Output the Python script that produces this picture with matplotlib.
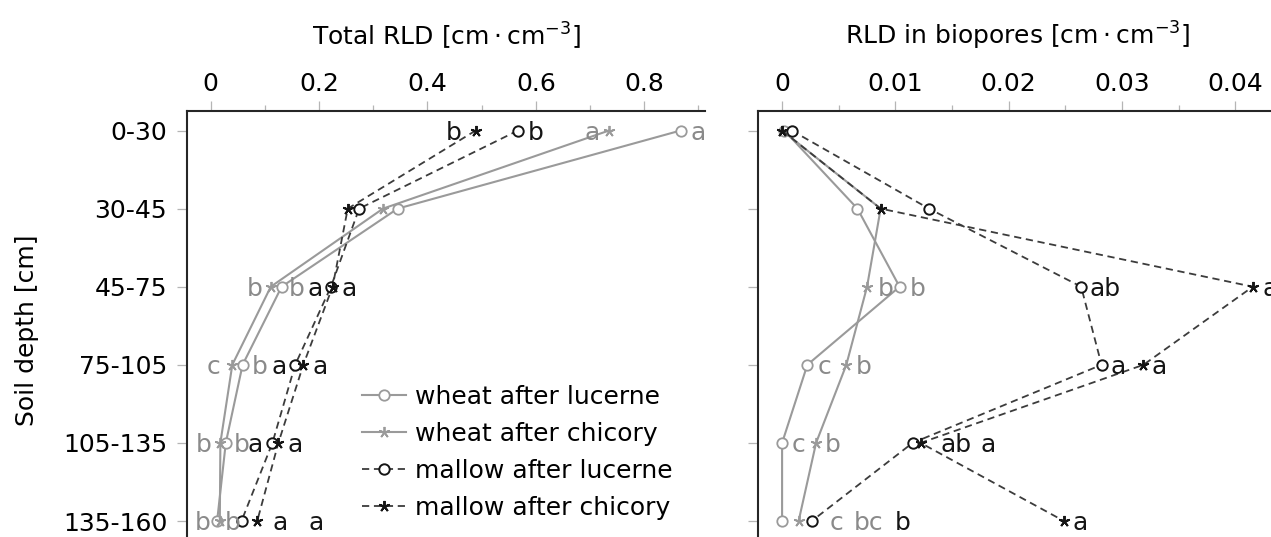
import matplotlib
matplotlib.use("Agg")
import matplotlib.pyplot as plt
from matplotlib.ticker import MultipleLocator, FuncFormatter
from matplotlib.lines import Line2D

plt.rcParams["font.family"] = ["DejaVu Sans"]
plt.rcParams["mathtext.fontset"] = "dejavusans"

# ---- data -------------------------------------------------------------
depths = ["0-30", "30-45", "45-75", "75-105", "105-135", "135-160"]
series_names = ["wheat after lucerne", "wheat after chicory",
                "mallow after lucerne", "mallow after chicory"]

# total root length density [cm cm^-3]
total_wl = [0.867, 0.345, 0.131, 0.059, 0.028, 0.012]
total_wc = [0.735, 0.318, 0.111, 0.040, 0.018, 0.017]
total_ml = [0.567, 0.274, 0.222, 0.156, 0.114, 0.057]
total_mc = [0.489, 0.253, 0.225, 0.171, 0.125, 0.086]

# root length density in biopores [cm cm^-3]
bio_wl = [0.0002, 0.00665, 0.01037, 0.00223, 0.0, 0.0]
bio_wc = [0.0, 0.0087, 0.0075, 0.00567, 0.0030, 0.00146]
bio_ml = [0.00085, 0.01296, 0.0264, 0.0282, 0.01152, 0.00262]
bio_mc = [0.0, 0.0087, 0.04155, 0.0319, 0.01223, 0.02488]

# significance letters per depth (None = no letter)
total_letters = {
    "wl": ["a", None, "b", "b", "b", "b"],
    "wc": ["a", None, "b", "c", "b", "b"],
    "ml": ["b", None, "a", "a", "a", "a"],
    "mc": ["b", None, "a", "a", "a", "a"],
}
bio_letters = {
    "wl": [None, None, "b", "c", "c", "c"],
    "wc": [None, None, "b", "b", "b", "bc"],
    "ml": [None, None, "ab", "a", "ab", "b"],
    "mc": [None, None, "a", "a", "a", "a"],
}

# horizontal letter offsets from the marker, in pixels
total_letter_dx = {
    "wl": [18, 0, 15, 17, 16, 16],
    "wc": [-17, 0, -16, -19, -17, -17],
    "ml": [18, 0, -16, -16, -17, 75],
    "mc": [-22, 0, 17, 17, 17, 23],
}
bio_letter_dx = {
    "wl": [0, 0, 18, 17, 16, 54],
    "wc": [0, 0, 19, 17, 17, 70],
    "ml": [0, 0, 24, 17, 43, 91],
    "mc": [0, 0, 17, 16, 67, 16],
}

# ---- style ------------------------------------------------------------
GREY = "#9a9a9a"
GREY_TXT = "#8a8a8a"
DARK = "#3c3c3c"
BLACK = "#151515"
FS = 18
DPI = 100
W, H = 1271, 537

STAR = (5, 2, 0)
styles = {
    "wl": dict(color=GREY, ls="-", marker="o", mfc="white", mec=GREY, ms=7.5, mew=1.3, lw=1.5),
    "wc": dict(color=GREY, ls="-", marker=STAR, mec=GREY, ms=8, mew=1.3, lw=1.5),
    "ml": dict(color=DARK, ls=(0, (4, 2.6)), marker="o", mfc="white", mec=BLACK, ms=7.5, mew=1.4, lw=1.3),
    "mc": dict(color=DARK, ls=(0, (4, 2.6)), marker=STAR, mec=BLACK, ms=8, mew=1.4, lw=1.3),
}
txt_colors = {"wl": GREY_TXT, "wc": GREY_TXT, "ml": BLACK, "mc": BLACK}
keys = ["wl", "wc", "ml", "mc"]

fig = plt.figure(figsize=(W / DPI, H / DPI), dpi=DPI)

ax_top_px, ax_bot_px = 111, 546
ax_h = (ax_bot_px - ax_top_px) / H
ax_w = (705 - 187.3) / W
ax1 = fig.add_axes([187.3 / W, 1 - ax_bot_px / H, ax_w, ax_h])
ax2 = fig.add_axes([758.3 / W, 1 - ax_bot_px / H, ax_w, ax_h])

rows = list(range(len(depths)))


def setup(ax, xlim, major, minor, title, show_ylabels):
    ax.set_xlim(*xlim)
    ax.set_ylim(5.32, -0.25)
    ax.xaxis.tick_top()
    ax.xaxis.set_major_locator(MultipleLocator(major))
    ax.xaxis.set_minor_locator(MultipleLocator(minor))
    ax.xaxis.set_major_formatter(FuncFormatter(lambda v, p: "%g" % round(v, 6)))
    ax.tick_params(axis="x", which="major", direction="out", length=7.5, width=0.9,
                   color="#b5b5b5", pad=3, labelsize=FS, top=True, bottom=False,
                   labeltop=True, labelbottom=False)
    ax.tick_params(axis="x", which="minor", direction="out", length=4.5, width=0.9,
                   color="#b5b5b5", top=True, bottom=False)
    ax.set_yticks(rows)
    ax.set_yticklabels(depths if show_ylabels else [])
    ax.tick_params(axis="y", direction="out", length=7.5, width=0.9, color="#b5b5b5",
                   pad=7, labelsize=FS, right=False)
    for side in ("right", "bottom"):
        ax.spines[side].set_visible(False)
    for side in ("left", "top"):
        ax.spines[side].set_color("#262626")
        ax.spines[side].set_linewidth(1.5)
    ax.annotate(title, xy=(0.5, 1.0), xycoords="axes fraction", xytext=(0, 54),
                textcoords="offset points", ha="center", va="center", fontsize=FS)


setup(ax1, (-0.043, 0.912), 0.2, 0.1,
      r"Total RLD $\left[\mathrm{cm}\cdot\mathrm{cm}^{-3}\right]$", True)
setup(ax2, (-0.0021, 0.0436), 0.01, 0.005,
      r"RLD in biopores $\left[\mathrm{cm}\cdot\mathrm{cm}^{-3}\right]$", False)

total_vals = {"wl": total_wl, "wc": total_wc, "ml": total_ml, "mc": total_mc}
bio_vals = {"wl": bio_wl, "wc": bio_wc, "ml": bio_ml, "mc": bio_mc}


def draw(ax, vals, letters, letter_dx):
    for z, k in enumerate(keys):
        ax.plot(vals[k], rows, clip_on=False, zorder=3 + z, **styles[k])
    for k in keys:
        for r, (v, lab) in enumerate(zip(vals[k], letters[k])):
            if lab is None:
                continue
            ax.annotate(lab, xy=(v, r), xytext=(letter_dx[k][r] * 72 / DPI, -1.5),
                        textcoords="offset points", ha="center", va="center",
                        fontsize=FS, color=txt_colors[k], annotation_clip=False,
                        zorder=10)


draw(ax1, total_vals, total_letters, total_letter_dx)
draw(ax2, bio_vals, bio_letters, bio_letter_dx)

fig.text(27 / W, 1 - 330 / H, "Soil depth [cm]", rotation=90, ha="center",
         va="center", fontsize=FS)

handles = [Line2D([], [], **styles[k]) for k in keys]
ax1.legend(handles, series_names, loc="upper left",
           bbox_to_anchor=(361.7 / W, 1 - 385 / H), bbox_transform=fig.transFigure,
           frameon=False, fontsize=FS, handlelength=1.77, handletextpad=0.36,
           labelspacing=0.52, borderpad=0, borderaxespad=0)

fig.savefig("out.png", dpi=DPI)
